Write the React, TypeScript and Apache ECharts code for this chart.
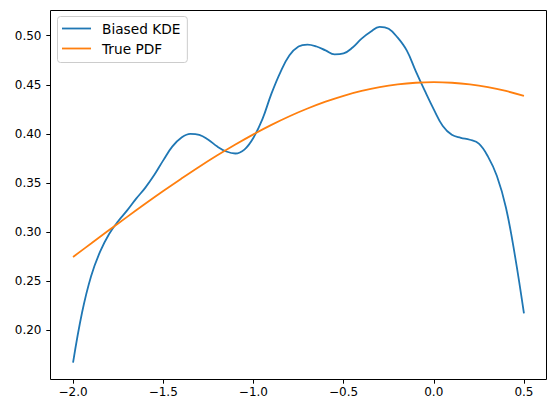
import React, { useEffect, useRef } from 'react';
import * as echarts from 'echarts';

const kdeX = [
  -2.0, -1.95, -1.9, -1.85, -1.8, -1.75, -1.7, -1.65, -1.6, -1.55,
  -1.5, -1.45, -1.4, -1.35, -1.3, -1.25, -1.2, -1.15, -1.1, -1.05,
  -1.0, -0.95, -0.9, -0.85, -0.8, -0.75, -0.7, -0.65, -0.6, -0.55,
  -0.5, -0.45, -0.4, -0.35, -0.3, -0.25, -0.2, -0.15, -0.1, -0.05,
  0.0, 0.05, 0.1, 0.15, 0.2, 0.25, 0.3, 0.35, 0.4, 0.45, 0.5,
];
const kdeY = [
  0.167, 0.218, 0.255, 0.28, 0.298, 0.311, 0.322, 0.334, 0.345, 0.358,
  0.373, 0.387, 0.396, 0.4, 0.399, 0.394, 0.387, 0.382, 0.38, 0.384,
  0.396, 0.415, 0.441, 0.463, 0.48, 0.489, 0.491, 0.489, 0.485, 0.481,
  0.482, 0.488, 0.497, 0.504, 0.509, 0.507, 0.498, 0.485, 0.464, 0.444,
  0.425, 0.408, 0.399, 0.396, 0.394, 0.39, 0.377, 0.357, 0.325, 0.276, 0.217,
];

const pdfX = [
  -2.0, -1.9, -1.8, -1.7, -1.6, -1.5, -1.4, -1.3, -1.2, -1.1, -1.0,
  -0.9, -0.8, -0.7, -0.6, -0.5, -0.4, -0.3, -0.2, -0.1, 0.0,
  0.1, 0.2, 0.3, 0.4, 0.5,
];
const pdfY = [
  0.2746, 0.2883, 0.302, 0.3154, 0.3287, 0.3417, 0.3543, 0.3665, 0.3781, 0.3891, 0.3995,
  0.4091, 0.4179, 0.4258, 0.4328, 0.4388, 0.4437, 0.4476, 0.4504, 0.4521, 0.4527,
  0.4521, 0.4504, 0.4476, 0.4437, 0.4388,
];

const xTicks = [-2.0, -1.5, -1.0, -0.5, 0.0, 0.5];
const yTicks = [0.2, 0.25, 0.3, 0.35, 0.4, 0.45, 0.5];
const seriesNames = ['Biased KDE', 'True PDF'];

const fmt = (v: number, d: number) => {
  const s = Math.abs(v).toFixed(d);
  return v < -1e-9 ? '\u2212' + s : s;
};

export default function App() {
  const ref = useRef<HTMLDivElement>(null);
  useEffect(() => {
    if (!ref.current) return;
    const chart = echarts.init(ref.current, null, { renderer: 'svg' });
    const font = 'DejaVu Sans';
    chart.setOption({
      animation: false,
      backgroundColor: '#fff',
      grid: {
        left: 50.5, right: 9.5, top: 10.5, bottom: 33.5,
        show: true, borderColor: '#000', borderWidth: 1, backgroundColor: 'transparent',
      },
      legend: {
        left: 57.5, top: 16.5, orient: 'vertical',
        data: seriesNames,
        icon: 'rect', itemWidth: 29, itemHeight: 1.8, itemGap: 4,
        padding: [4, 7, 6, 4.5],
        backgroundColor: '#fff', borderColor: '#cccccc', borderWidth: 1, borderRadius: 3,
        textStyle: { fontSize: 13.7, color: '#000', fontFamily: font, lineHeight: 16, padding: [0, 0, 0, 6] },
      },
      xAxis: {
        type: 'value', min: -2.125, max: 0.625, position: 'bottom',
        axisLine: { show: false, onZero: false },
        splitLine: { show: false },
        axisTick: { show: true, customValues: xTicks, length: 4.2, lineStyle: { color: '#000', width: 1 } },
        axisLabel: {
          customValues: xTicks, margin: 6, fontSize: 12, color: '#000', fontFamily: font,
          formatter: (v: number) => fmt(v, 1),
        },
      },
      yAxis: {
        type: 'value', min: 0.1497, max: 0.5257, position: 'left',
        axisLine: { show: false, onZero: false },
        splitLine: { show: false },
        axisTick: { show: true, customValues: yTicks, length: 4.2, lineStyle: { color: '#000', width: 1 } },
        axisLabel: {
          customValues: yTicks, margin: 9, fontSize: 12, color: '#000', fontFamily: font,
          formatter: (v: number) => fmt(v, 2),
        },
      },
      series: [
        {
          name: seriesNames[0], type: 'line', symbol: 'none', smooth: 0.4,
          data: kdeX.map((x, i) => [x, kdeY[i]]),
          lineStyle: { color: '#1f77b4', width: 1.8 }, itemStyle: { color: '#1f77b4' },
        },
        {
          name: seriesNames[1], type: 'line', symbol: 'none', smooth: 0.4,
          data: pdfX.map((x, i) => [x, pdfY[i]]),
          lineStyle: { color: '#ff7f0e', width: 1.8 }, itemStyle: { color: '#ff7f0e' },
        },
      ],
    });
    return () => chart.dispose();
  }, []);
  return <div ref={ref} style={{ position: 'fixed', left: 0, top: 0, width: 556, height: 413 }} />;
}
